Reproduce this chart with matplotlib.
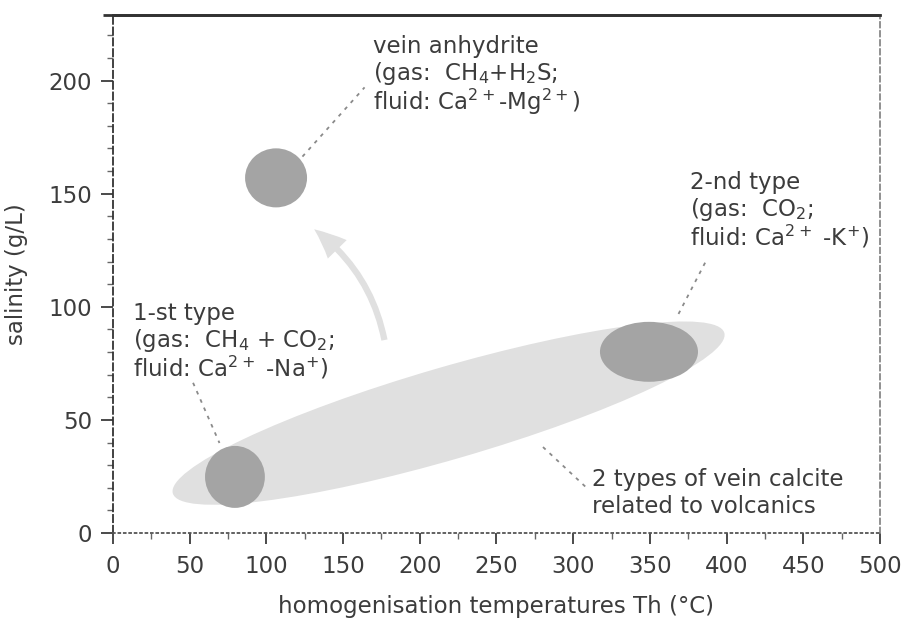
import numpy as np
import matplotlib
matplotlib.use("Agg")
import matplotlib.pyplot as plt
from matplotlib.patches import Ellipse, FancyArrowPatch
from matplotlib.transforms import Affine2D

plt.rcParams['font.family'] = ['DejaVu Sans']
plt.rcParams['mathtext.fontset'] = 'dejavusans'

# ---- data (Th in °C, salinity in g/L) ----
x_ticks = [0, 50, 100, 150, 200, 250, 300, 350, 400, 450, 500]
y_ticks = [0, 50, 100, 150, 200]

# small clusters: 1-st type, vein anhydrite, 2-nd type
cluster_names = ["1-st type", "vein anhydrite", "2-nd type"]
cluster_th = [79.5, 106.3, 349.4]
cluster_sal = [24.8, 157.0, 80.1]
cluster_th_span = [39.0, 40.4, 63.9]
cluster_sal_span = [27.4, 26.1, 26.5]

# large envelope: two tips (Th, salinity) and minor width (in °C-equivalent)
envelope_th = [39.0, 398.5]
envelope_sal = [17.5, 88.5]
envelope_minor = 60.0

# evolution arrow (Th, salinity)
arrow_th = [177.3, 129.7]
arrow_sal = [84.1, 135.0]

# leader lines (Th pairs, salinity pairs)
leader_th = [[123.5, 164.0], [52.2, 69.4], [386.0, 367.7], [280.3, 310.3]]
leader_sal = [[166.4, 197.0], [66.4, 39.8], [119.5, 95.6], [38.0, 19.0]]

W, H = 904, 621
fig = plt.figure(figsize=(W / 100, H / 100), dpi=100)
L, R, B, T = 113 / W, 880 / W, 1 - 533 / H, 1 - 15 / H
ax = fig.add_axes([L, B, R - L, T - B])
ax.set_xlim(0, 500)
ax.set_ylim(0, 229)

txt_col = '#3c3c3c'
dark = '#a4a4a4'
light = '#e0e0e0'

# isotropic coordinates for the rotated envelope
px_x = (R - L) * W / 500.0
px_y = (T - B) * H / 229.0
k = px_y / px_x
iso = Affine2D().scale(1, 1 / k) + ax.transData
cx = np.mean(envelope_th)
cz = np.mean(envelope_sal) * k
dx = envelope_th[1] - envelope_th[0]
dz = (envelope_sal[1] - envelope_sal[0]) * k
length = np.hypot(dx, dz)
ang = np.degrees(np.arctan2(dz, dx))
ax.add_patch(Ellipse((cx, cz), length, envelope_minor, angle=ang,
                     transform=iso, facecolor=light, edgecolor='none', zorder=1))

for th, s, w, h in zip(cluster_th, cluster_sal, cluster_th_span, cluster_sal_span):
    ax.add_patch(Ellipse((th, s), w, h, facecolor=dark, edgecolor='none', zorder=2))

arr = FancyArrowPatch((arrow_th[0], arrow_sal[0]), (arrow_th[1], arrow_sal[1]),
                      connectionstyle="arc3,rad=0.2",
                      arrowstyle="simple,head_length=2.2,head_width=1.9,tail_width=0.45",
                      mutation_scale=10, facecolor=light, edgecolor='none', zorder=2)
ax.add_patch(arr)

for lx, ly in zip(leader_th, leader_sal):
    ax.plot(lx, ly, color='#8a8a8a', lw=1.3, ls=(0, (2, 3)), zorder=3)

fs = 16.5
def block(x, ys, lines):
    for y, s in zip(ys, lines):
        ax.text(x, y, s, fontsize=fs, color=txt_col, va='center', ha='left', zorder=4)

block(169.5, [215, 203, 190.5],
      ["vein anhydrite", r"(gas:  CH$_4$+H$_2$S;", r"fluid: Ca$^{2+}$-Mg$^{2+}$)"])
block(13, [97, 85, 73],
      ["1-st type", r"(gas:  CH$_4$ + CO$_2$;", r"fluid: Ca$^{2+}$ -Na$^{+}$)"])
block(376, [155, 143, 131],
      ["2-nd type", r"(gas:  CO$_2$;", r"fluid: Ca$^{2+}$ -K$^{+}$)"])
block(312, [23.5, 11.5],
      ["2 types of vein calcite", "related to volcanics"])

# axes styling
ax.set_xticks(x_ticks)
ax.set_yticks(y_ticks)
ax.set_xticks(np.arange(25, 500, 50), minor=True)
ax.set_yticks(np.arange(10, 230, 10), minor=True)
ax.tick_params(axis='both', which='major', direction='out', length=9, width=1.3,
               colors=txt_col, labelsize=fs, pad=6)
ax.tick_params(axis='both', which='minor', direction='out', length=4, width=1,
               colors='#666666')
ax.tick_params(axis='x', which='major', length=8, pad=8)
ax.set_xlabel("homogenisation temperatures Th (°C)", fontsize=fs, color=txt_col, labelpad=12)
ax.set_ylabel("salinity (g/L)", fontsize=fs, color=txt_col, labelpad=15)

ax.spines['left'].set_linestyle((0, (4, 2)))
ax.spines['left'].set_color('#333333')
ax.spines['left'].set_linewidth(1.3)
ax.spines['bottom'].set_linestyle((0, (1, 2)))
ax.spines['bottom'].set_color('#555555')
ax.spines['bottom'].set_linewidth(1.3)
ax.spines['right'].set_linestyle((0, (3, 2)))
ax.spines['right'].set_color('#888888')
ax.spines['right'].set_linewidth(1.3)
ax.spines['top'].set_color('#333333')
ax.spines['top'].set_linewidth(2)
ax.plot([-0.013, 1.0], [1.0, 1.0], transform=ax.transAxes, color='#333333',
        lw=2, clip_on=False, solid_capstyle='butt')

fig.savefig("out.png", dpi=100)
